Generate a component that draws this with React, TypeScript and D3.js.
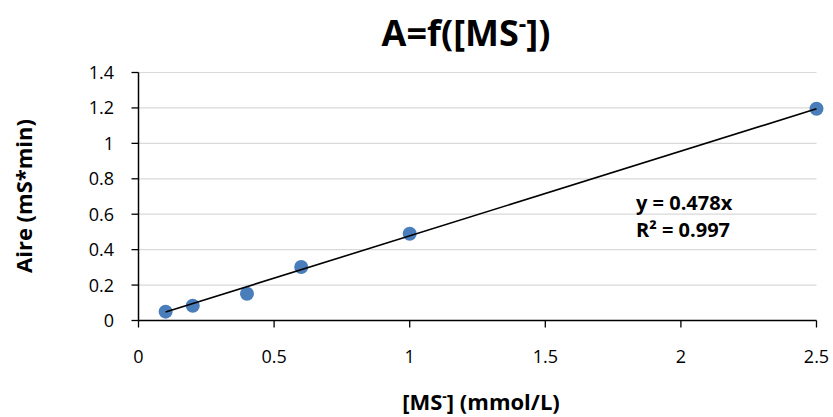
import React from "react";
import * as d3 from "d3";

const xValues = [0.1, 0.2, 0.4, 0.6, 1.0, 2.5];
const yValues = [0.05, 0.083, 0.151, 0.302, 0.49, 1.195];
const xTicks = [0, 0.5, 1, 1.5, 2, 2.5];
const yTicks = [0, 0.2, 0.4, 0.6, 0.8, 1, 1.2, 1.4];
const slope = 0.478;
const r2 = 0.997;

const W = 833;
const H = 417;
const FONT = "'Open Sans', sans-serif";

export default function App() {
  const x = d3.scaleLinear().domain([0, 2.5]).range([138.5, 816.5]);
  const y = d3.scaleLinear().domain([0, 1.4]).range([320.5, 72.5]);
  const line = d3
    .line<number>()
    .x((d) => x(d))
    .y((d) => y(slope * d));
  const xMin = d3.min(xValues)!;
  const xMax = d3.max(xValues)!;
  return (
    <svg
      width={W}
      height={H}
      style={{ position: "absolute", left: 0, top: 0, background: "#fff" }}
      fontFamily={FONT}
    >
      <text x={466} y={46} textAnchor="middle" fontSize={36} fontWeight="bold" fill="#000">
        A=f([MS
        <tspan dy={-14} fontSize={23}>-</tspan>
        <tspan dy={14}>])</tspan>
      </text>
      {yTicks.map((t) => (
        <g key={t}>
          {t > 0 && (
            <line x1={x(0)} x2={x(2.5)} y1={y(t)} y2={y(t)} stroke="#d9d9d9" strokeWidth={1.2} />
          )}
          <line x1={x(0) - 7} x2={x(0)} y1={y(t)} y2={y(t)} stroke="#000" strokeWidth={1.3} />
          <text x={114} y={y(t) + 6.5} textAnchor="end" fontSize={18} fill="#000">
            {d3.format("~g")(t)}
          </text>
        </g>
      ))}
      {xTicks.map((t) => (
        <g key={t}>
          <line x1={x(t)} x2={x(t)} y1={y(0)} y2={y(0) + 7} stroke="#000" strokeWidth={1.3} />
          <text x={x(t)} y={363} textAnchor="middle" fontSize={18} fill="#000">
            {d3.format("~g")(t)}
          </text>
        </g>
      ))}
      <line x1={x(0)} x2={x(0)} y1={y(1.4)} y2={y(0)} stroke="#000" strokeWidth={1.5} />
      <line x1={x(0)} x2={x(2.5)} y1={y(0)} y2={y(0)} stroke="#000" strokeWidth={1.5} />
      {xValues.map((v, i) => (
        <circle key={i} cx={x(v)} cy={y(yValues[i])} r={7} fill="#4A7EBB" />
      ))}
      <path d={line([xMin, xMax]) || ""} stroke="#000" strokeWidth={1.6} fill="none" />
      <text x={636} y={210} fontSize={20} fontWeight="bold" fill="#000">
        {`y = ${slope}x`}
      </text>
      <text x={636} y={237} fontSize={20} fontWeight="bold" fill="#000">
        {`R² = ${r2}`}
      </text>
      <text
        transform={`translate(32,196) rotate(-90)`}
        textAnchor="middle"
        fontSize={22}
        fontWeight="bold"
        fill="#000"
      >
        Aire (mS*min)
      </text>
      <text x={481} y={410} textAnchor="middle" fontSize={22} fontWeight="bold" fill="#000">
        [MS
        <tspan dy={-9} fontSize={14}>-</tspan>
        <tspan dy={9}>] (mmol/L)</tspan>
      </text>
    </svg>
  );
}
